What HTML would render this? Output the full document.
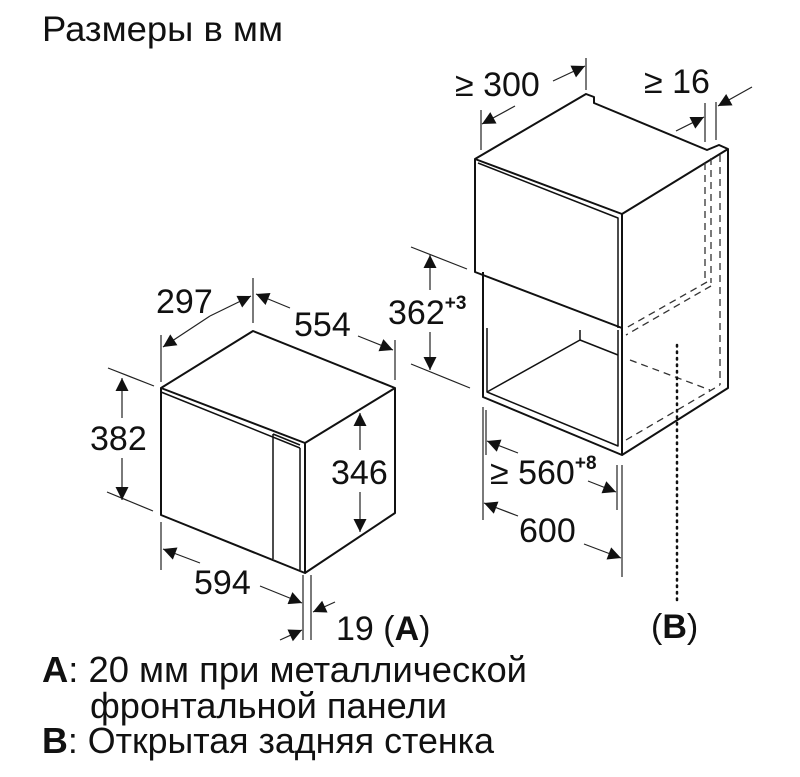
<!DOCTYPE html>
<html><head><meta charset="utf-8"><style>
html,body{margin:0;padding:0;background:#fff;}
svg{display:block;font-family:"Liberation Sans",Arial,sans-serif;}
</style></head><body>
<svg width="800" height="777" viewBox="0 0 800 777" xmlns="http://www.w3.org/2000/svg">
<defs>
<marker id="ar" viewBox="0 0 10 10" refX="10" refY="5" markerWidth="19" markerHeight="13" markerUnits="userSpaceOnUse" orient="auto"><path d="M0,0L10,5L0,10z" fill="#111"/></marker>
</defs>
<g fill="#111">
<text x="42" y="41" font-size="35" textLength="241" lengthAdjust="spacingAndGlyphs">Размеры в мм</text>
<text x="42" y="682" font-size="36" textLength="485" lengthAdjust="spacingAndGlyphs"><tspan font-weight="bold">A</tspan>: 20 мм при металлической</text>
<text x="90" y="718" font-size="36" textLength="357" lengthAdjust="spacingAndGlyphs">фронтальной панели</text>
<text x="42" y="753" font-size="36" textLength="452" lengthAdjust="spacingAndGlyphs"><tspan font-weight="bold">B</tspan>: Открытая задняя стенка</text>
</g>
<!-- Microwave -->
<g stroke="#111" stroke-width="2" fill="none" stroke-linejoin="round">
<path d="M161,388 L253,331 L395,388 L305,443 Z"/>
<path d="M161,388 L161,515 L305,573 L305,443"/>
<path d="M395,388 L395,513 L305,573"/>
<path d="M161,392 L300,448 M300,448 L300,570" stroke-width="1.5"/>
<path d="M273,434 L273,559 M273,434 L300,445" stroke-width="1.5"/>
</g>
<g stroke="#222" stroke-width="1.2" fill="none">
<line x1="161" y1="335" x2="161" y2="382"/>
<line x1="253" y1="278" x2="253" y2="323"/>
<line x1="395" y1="340" x2="395" y2="380"/>
<line x1="108" y1="368" x2="154" y2="386"/>
<line x1="107" y1="492" x2="153" y2="511"/>
<line x1="161" y1="522" x2="161" y2="570"/>
<line x1="303" y1="575" x2="303" y2="640"/>
<line x1="311" y1="575" x2="311" y2="640"/>
<line x1="210" y1="316" x2="163" y2="347" marker-end="url(#ar)"/>
<line x1="210" y1="316" x2="251" y2="296" marker-end="url(#ar)"/>
<line x1="290" y1="308" x2="256" y2="294" marker-end="url(#ar)"/>
<line x1="358" y1="336" x2="393" y2="350" marker-end="url(#ar)"/>
<line x1="122" y1="418" x2="122" y2="378" marker-end="url(#ar)"/>
<line x1="122" y1="458" x2="122" y2="500" marker-end="url(#ar)"/>
<line x1="360" y1="450" x2="360" y2="413" marker-end="url(#ar)"/>
<line x1="360" y1="492" x2="360" y2="532" marker-end="url(#ar)"/>
<line x1="200" y1="563" x2="163" y2="549" marker-end="url(#ar)"/>
<line x1="260" y1="586" x2="302" y2="603" marker-end="url(#ar)"/>
<line x1="280" y1="640" x2="302" y2="630" marker-end="url(#ar)"/>
<line x1="335" y1="602" x2="313" y2="612" marker-end="url(#ar)"/>
</g>
<g fill="#111" font-size="34">
<text x="156" y="313">297</text>
<text x="294" y="336">554</text>
<text x="90" y="450">382</text>
<text x="331" y="484">346</text>
<text x="194" y="594">594</text>
<text x="336" y="640">19 (<tspan font-weight="bold">A</tspan>)</text>
</g>
<!-- Cabinet -->
<g stroke="#111" stroke-width="2" fill="none" stroke-linejoin="round">
<path d="M475,159 L586,94 L594,97 L594,103 L707,150 L719,145 L728,149 L622,214 Z"/>
<path d="M475,159 L475,272 L622,328 L622,214"/>
<path d="M478,163 L618,218 L618,328" stroke-width="1.5"/>
<path d="M728,149 L728,388 L622,455"/>
<path d="M483,272 L483,397 L622,455 L622,328"/>
<path d="M487,328 L487,392 L618,446 L618,330" stroke-width="1.5"/>
<path d="M487,392 L580,340 L580,330" stroke-width="1.5"/>
<path d="M580,340 L618,355" stroke-width="1.5"/>
</g>
<g stroke="#333" stroke-width="1.3" fill="none" stroke-dasharray="7,5">
<line x1="705" y1="163" x2="705" y2="280"/>
<line x1="711" y1="158" x2="711" y2="283"/>
<line x1="707" y1="282" x2="626" y2="328"/>
<line x1="711" y1="286" x2="626" y2="335"/>
<line x1="630" y1="360" x2="710" y2="390"/>
<line x1="626" y1="440" x2="720" y2="385"/>
<line x1="720" y1="155" x2="720" y2="385"/>
</g>
<line x1="677" y1="345" x2="677" y2="600" stroke="#111" stroke-width="2.5" stroke-dasharray="1.5,5" stroke-linecap="round"/>
<g stroke="#222" stroke-width="1.2" fill="none">
<line x1="481" y1="110" x2="481" y2="150"/>
<line x1="586" y1="58" x2="586" y2="90"/>
<line x1="705" y1="103" x2="705" y2="142"/>
<line x1="716" y1="102" x2="716" y2="140"/>
<line x1="411" y1="247" x2="467" y2="269"/>
<line x1="411" y1="364" x2="470" y2="388"/>
<line x1="483" y1="407" x2="483" y2="520"/>
<line x1="486" y1="410" x2="486" y2="455"/>
<line x1="617" y1="465" x2="617" y2="510"/>
<line x1="622" y1="465" x2="622" y2="577"/>
<line x1="515" y1="106" x2="482" y2="124" marker-end="url(#ar)"/>
<line x1="553" y1="81" x2="585" y2="66" marker-end="url(#ar)"/>
<line x1="676" y1="131" x2="704" y2="117" marker-end="url(#ar)"/>
<line x1="752" y1="87" x2="718" y2="106" marker-end="url(#ar)"/>
<line x1="430" y1="290" x2="430" y2="255" marker-end="url(#ar)"/>
<line x1="430" y1="332" x2="430" y2="370" marker-end="url(#ar)"/>
<line x1="518" y1="453" x2="487" y2="441" marker-end="url(#ar)"/>
<line x1="588" y1="481" x2="616" y2="492" marker-end="url(#ar)"/>
<line x1="518" y1="516" x2="484" y2="503" marker-end="url(#ar)"/>
<line x1="584" y1="544" x2="621" y2="558" marker-end="url(#ar)"/>
</g>
<g fill="#111" font-size="34">
<text x="455" y="96">≥ 300</text>
<text x="644" y="93">≥ 16</text>
<text x="388" y="324">362<tspan font-size="19" font-weight="bold" dy="-15">+3</tspan></text>
<text x="490" y="484">≥ 560<tspan font-size="19" font-weight="bold" dy="-15">+8</tspan></text>
<text x="519" y="542">600</text>
<text x="651" y="638">(<tspan font-weight="bold">B</tspan>)</text>
</g>
</svg>
</body></html>
